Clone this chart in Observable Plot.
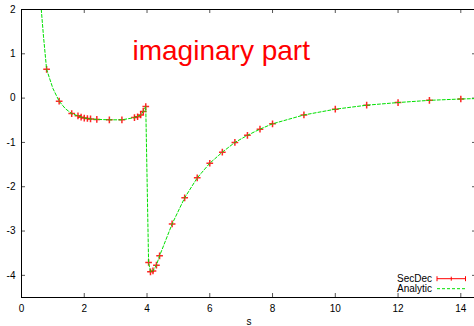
<!DOCTYPE html>
<html><head><meta charset="utf-8">
<script src="https://cdn.jsdelivr.net/npm/d3@7"></script>
<script src="https://cdn.jsdelivr.net/npm/@observablehq/plot@0.6"></script>
<style>html,body{margin:0;padding:0;overflow:hidden;background:#fff;width:474px;height:326px}</style>
</head><body><div id="chart"></div>
<script>
// SecDec numerical points
const secdecS = [0.8,1.2,1.6,1.8,1.9,2.0,2.1,2.2,2.4,2.8,3.2,3.6,3.7,3.8,3.88,3.96,4.05,4.11,4.19,4.3,4.4,4.8,5.2,5.6,6.0,6.4,6.8,7.2,7.6,8,9,10,11,12,13,14];
const secdecV = [0.65,-0.07,-0.35,-0.40,-0.43,-0.45,-0.46,-0.47,-0.48,-0.49,-0.49,-0.44,-0.42,-0.38,-0.30,-0.19,-3.71,-3.92,-3.90,-3.77,-3.56,-2.84,-2.25,-1.80,-1.47,-1.22,-1.00,-0.84,-0.70,-0.58,-0.38,-0.25,-0.16,-0.10,-0.05,-0.02];
// Analytic curve
const analyticS = [0.63,0.7,0.8,1.0,1.2,1.4,1.6,1.8,2.0,2.2,2.4,2.8,3.2,3.6,3.8,3.88,3.96,4.05,4.11,4.19,4.3,4.4,4.8,5.2,5.6,6.0,6.4,6.8,7.2,7.6,8,9,10,11,12,13,14,14.5];
const analyticV = [2.0,1.4,0.65,0.22,-0.07,-0.24,-0.35,-0.40,-0.45,-0.47,-0.48,-0.49,-0.49,-0.44,-0.38,-0.30,-0.19,-3.71,-3.92,-3.90,-3.77,-3.56,-2.84,-2.25,-1.80,-1.47,-1.22,-1.00,-0.84,-0.70,-0.58,-0.38,-0.25,-0.16,-0.10,-0.05,-0.02,-0.01];
const xTicks = [0,2,4,6,8,10,12,14];
const yTicks = [-4,-3,-2,-1,0,1,2];
const seriesNames = ["SecDec","Analytic"];
const seriesColors = ["#ff0000","#00e000"];
const titleText = "imaginary part";
const xLabel = "s";

const secdec = secdecS.map((s,i)=>({s, v: secdecV[i]}));
const analytic = analyticS.map((s,i)=>({s, v: analyticV[i]}));

function legendMark(index, scales, values, dims) {
  const right = dims.width - dims.marginRight;
  const bottom = dims.height - dims.marginBottom;
  const g = d3.create("svg:g").attr("font-size", 10);
  seriesNames.forEach((name, i) => {
    const cy = bottom - 18.3 + i * 10;
    g.append("text").attr("x", right - 44).attr("y", cy).attr("dy", "0.35em")
      .attr("text-anchor", "end").attr("fill", "black").text(name);
    const x1 = right - 39, x2 = right - 10.5;
    const line = g.append("line").attr("x1", x1).attr("x2", x2).attr("y1", cy).attr("y2", cy)
      .attr("stroke", seriesColors[i]).attr("stroke-width", 1);
    if (i === 0) {
      [x1, (x1 + x2) / 2, x2].forEach((x, j) => {
        const h = j === 1 ? 2 : 2.5;
        g.append("line").attr("x1", x).attr("x2", x).attr("y1", cy - h).attr("y2", cy + h)
          .attr("stroke", seriesColors[i]).attr("stroke-width", 1);
      });
    } else {
      line.attr("stroke-dasharray", "3,2");
    }
  });
  return g.node();
}

const plot = Plot.plot({
  width: 480, height: 326,
  marginLeft: 21, marginRight: 4, marginTop: 9, marginBottom: 29,
  style: {fontFamily: "'Liberation Sans', Arial, sans-serif", fontSize: "10px", maxWidth: "none", background: "white", color: "black"},
  x: {domain: [0, 14.5]},
  y: {domain: [-4.5, 2]},
  marks: [
    Plot.ruleX(xTicks, {x: d => d, insetTop: 284, stroke: "#555"}),
    Plot.ruleX(xTicks, {x: d => d, insetBottom: 284, stroke: "#555"}),
    Plot.ruleY(yTicks, {y: d => d, insetRight: 451, stroke: "#555"}),
    Plot.ruleY(yTicks, {y: d => d, insetLeft: 451, stroke: "#555"}),
    Plot.axisX({ticks: xTicks, tickSize: 0, tickPadding: 7, tickFormat: d => String(d), label: xLabel, labelAnchor: "center", labelArrow: "none", labelOffset: 27}),
    Plot.axisY({ticks: yTicks, tickSize: 0, tickPadding: 6, tickFormat: d => String(d), label: null}),
    Plot.text([titleText], {frameAnchor: "top-left", dx: 111, dy: 31, lineAnchor: "top", textAnchor: "start", fontSize: 28, fill: "#ff0000"}),
    Plot.dot(secdec, {x: "s", y: "v", symbol: "plus", r: 2.3, stroke: "#ff0000", strokeOpacity: 0.85, strokeWidth: 1.5}),
    Plot.line(analytic, {x: "s", y: "v", stroke: "#00e000", strokeWidth: 1, strokeDasharray: "3,2", clip: true}),
    legendMark,
    Plot.frame({stroke: "black", strokeWidth: 1})
  ]
});
document.getElementById("chart").appendChild(plot);
</script>
</body></html>
